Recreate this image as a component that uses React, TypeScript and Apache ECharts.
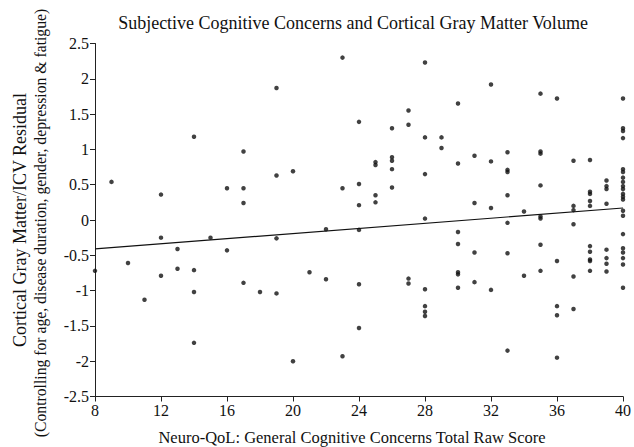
import React, { useEffect, useRef } from "react";
import * as echarts from "echarts";

const titleText = "Subjective Cognitive Concerns and Cortical Gray Matter Volume";
const xAxisTitle = "Neuro-QoL: General Cognitive Concerns Total Raw Score";
const yAxisTitle1 = "Cortical Gray Matter/ICV Residual";
const yAxisTitle2 = "(Controlling for age, disease duration, gender, depression & fatigue)";

// scores (x) with their residuals (y) grouped per score
const scoreValues: number[] = [8, 9, 10, 11, 12, 13, 14, 15, 16, 17, 18, 19, 20, 21, 22, 23, 24, 25, 26, 27, 28, 29, 30, 31, 32, 33, 34, 35, 36, 37, 38, 39, 40];
const residualsByScore: number[][] = [
  [-0.72],
  [0.54],
  [-0.61],
  [-1.13],
  [0.36, -0.25, -0.79],
  [-0.41, -0.69],
  [1.18, -0.71, -1.02, -1.74],
  [-0.25],
  [0.45, -0.43],
  [0.97, 0.45, 0.24, -0.89],
  [-1.02],
  [1.87, 0.63, -0.26, -1.04],
  [0.69, -2.0],
  [-0.74],
  [-0.13, -0.84],
  [2.3, 0.45, -1.93],
  [1.39, 0.51, 0.21, -0.14, -0.91, -1.53],
  [0.82, 0.78, 0.35, 0.25],
  [1.3, 0.89, 0.84, 0.72, 0.46],
  [1.55, 1.35, -0.83, -0.9],
  [2.23, 1.17, 0.65, 0.02, -0.98, -1.22, -1.3, -1.36],
  [1.17, 1.02],
  [1.65, 0.8, -0.17, -0.34, -0.74, -0.77, -0.96],
  [0.91, 0.24, -0.46, -0.88],
  [1.92, 0.83, 0.17, -0.99],
  [0.96, 0.71, 0.68, 0.35, -0.04, -0.47, -1.85],
  [0.12, -0.79],
  [1.79, 0.97, 0.94, 0.49, 0.05, 0.02, -0.35, -0.72],
  [1.72, -0.58, -1.22, -1.35, -1.95],
  [0.84, 0.2, 0.14, -0.06, -0.8, -1.26],
  [0.85, 0.4, 0.37, 0.27, 0.2, -0.37, -0.45, -0.56, -0.58, -0.72],
  [0.56, 0.48, 0.44, 0.23, -0.42, -0.54, -0.62, -0.73],
  [1.72, 1.3, 1.26, 1.16, 0.72, 0.68, 0.6, 0.54, 0.48, 0.44, 0.37, 0.33, 0.29, 0.13, 0.06, -0.2, -0.4, -0.46, -0.54, -0.63, -0.96],
];

// fitted regression line end points
const fitX: number[] = [8, 40];
const fitY: number[] = [-0.41, 0.17];

const FONT = "Liberation Serif";

export default function App() {
  const ref = useRef<HTMLDivElement>(null);
  useEffect(() => {
    if (!ref.current) return;
    const chart = echarts.init(ref.current, undefined, { renderer: "svg" });
    const points: number[][] = [];
    scoreValues.forEach((s, i) => {
      residualsByScore[i].forEach((r) => points.push([s, r]));
    });
    const fitData = fitX.map((x, i) => [x, fitY[i]]);
    chart.setOption({
      animation: false,
      backgroundColor: "#ffffff",
      title: {
        text: titleText,
        left: 348,
        top: 9,
        textAlign: "center",
        textStyle: { fontFamily: FONT, fontSize: 18, fontWeight: "normal", color: "#111" },
      },
      grid: { left: 95, right: 11, top: 43.5, bottom: 50.5, containLabel: false },
      xAxis: {
        type: "value",
        min: 8,
        max: 40,
        interval: 4,
        axisLine: { show: true, onZero: false, lineStyle: { color: "#222", width: 1 } },
        axisTick: { show: true, length: 5, lineStyle: { color: "#222" } },
        axisLabel: { fontFamily: FONT, fontSize: 16, color: "#111", margin: 6 },
        splitLine: { show: false },
      },
      yAxis: {
        type: "value",
        min: -2.5,
        max: 2.5,
        interval: 0.5,
        axisLine: { show: true, onZero: false, lineStyle: { color: "#222", width: 1 } },
        axisTick: { show: true, length: 5, lineStyle: { color: "#222" } },
        axisLabel: { fontFamily: FONT, fontSize: 16, color: "#111", margin: 6 },
        splitLine: { show: false },
      },
      graphic: [
        {
          type: "text",
          x: 352,
          y: 437,
          style: {
            text: xAxisTitle,
            fontFamily: FONT,
            fontSize: 16.5,
            fill: "#111",
            textAlign: "center",
            textVerticalAlign: "middle",
          },
        },
        {
          type: "text",
          x: 20,
          y: 220,
          rotation: Math.PI / 2,
          style: {
            text: yAxisTitle1,
            fontFamily: FONT,
            fontSize: 18,
            fill: "#111",
            textAlign: "center",
            textVerticalAlign: "middle",
          },
        },
        {
          type: "text",
          x: 40,
          y: 223,
          rotation: Math.PI / 2,
          style: {
            text: yAxisTitle2,
            fontFamily: FONT,
            fontSize: 15.7,
            fill: "#111",
            textAlign: "center",
            textVerticalAlign: "middle",
          },
        },
      ],
      series: [
        {
          type: "scatter",
          data: points,
          symbol: "circle",
          symbolSize: 4.5,
          itemStyle: { color: "#111" },
        },
        {
          type: "line",
          data: fitData,
          symbol: "none",
          lineStyle: { color: "#111", width: 1.2 },
        },
      ],
    });
    return () => chart.dispose();
  }, []);
  return (
    <div
      ref={ref}
      style={{ position: "fixed", left: 0, top: 0, width: 634, height: 447, background: "#fff" }}
    />
  );
}
